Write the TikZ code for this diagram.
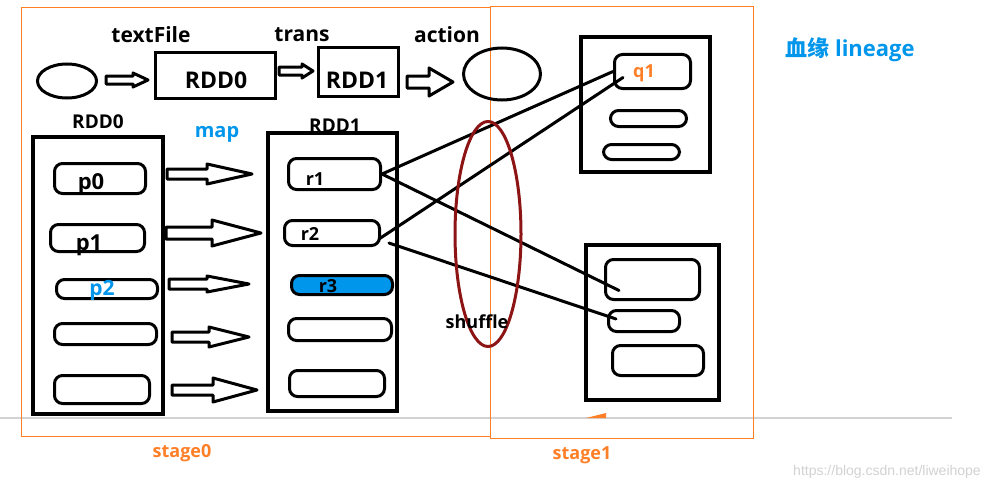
\documentclass[tikz,border=0pt]{standalone}
\usepackage{fontspec}
\setmainfont{Open Sans}
\setsansfont{Liberation Sans}
\newfontfamily\cjk{Noto Sans CJK SC}
\usepackage{tikz}
\usetikzlibrary{shapes.geometric, calc}
\definecolor{stageorange}{RGB}{255,127,39}
\definecolor{mapblue}{RGB}{0,150,235}
\definecolor{shufflered}{RGB}{140,20,20}
\tikzset{x=1pt, y=-1pt,
box/.style={draw, line width=3.5pt, inner sep=0pt},
part/.style={draw, line width=3pt, rounded corners=8pt, inner sep=0pt},
oval/.style={draw, ellipse, line width=3pt, inner sep=0pt},
wire/.style={line width=3pt, line cap=round},
stage/.style={draw=stageorange, line width=1pt},
lbl/.style={font=\bfseries\fontsize{#1}{#1}\selectfont, inner sep=0pt},
lbl/.default=20}
% x1, x2, y, half shaft, half head, head length
\newcommand{\fatarrow}[6]{%
\draw[line width=3pt, fill=white, line join=round]
(#1,#3-#4) -- (#2-#6,#3-#4) -- (#2-#6,#3-#5) -- (#2,#3) -- (#2-#6,#3+#5) -- (#2-#6,#3+#4) -- (#1,#3+#4) -- cycle;}

\begin{document}
\begin{tikzpicture}
\useasboundingbox (0,0) rectangle (1000,495);
\fill[white] (0,0) rectangle (1000,495);
\draw[gray!35, line width=1.5pt] (0,418) -- (952,418);
\fill[stageorange] (586,418) -- (606,413) -- (606,418) -- cycle;

% stages
\draw[stage] (21,8) rectangle (490,436);
\draw[stage] (490,7) rectangle (753,438);
\node[lbl=18, text=stageorange] (st0) at (182,453) {stage0};
\node[lbl=18, text=stageorange] (st1) at (582,455) {stage1};

% top row
\node[oval, minimum width=59, minimum height=34] (src) at (67,81) {};
\node[box, minimum width=120, minimum height=46] (top0) at (215.5,75.5) {};
\node[box, minimum width=80, minimum height=49] (top1) at (358.5,72) {};
\node[oval, minimum width=77, minimum height=52] (res) at (502,74) {};
\node[lbl=23] (top0t) at (216,80) {RDD0};
\node[lbl=23] (top1t) at (357,80) {RDD1};
\node[lbl=21] (tf) at (151,35) {textFile};
\node[lbl=21] (tr) at (302,35) {trans};
\node[lbl=21] (ac) at (447,35) {action};
\fatarrow{106}{148}{80}{4}{7}{15}
\fatarrow{279}{313}{71}{4}{7}{11}
\fatarrow{407}{453}{82}{6}{14}{24}

% RDD0
\node[lbl=19] (rdd0t) at (98,122) {RDD0};
\node[box, minimum width=130, minimum height=277] (rdd0) at (98,275.5) {};
\node[part, minimum width=91, minimum height=30] (p0) at (100,178.5) {};
\node[part, minimum width=94, minimum height=27] (p1) at (97.5,238) {};
\node[part, minimum width=101, minimum height=19] (p2) at (107,289) {};
\node[part, minimum width=102, minimum height=21] (p3) at (105.5,334) {};
\node[part, minimum width=95, minimum height=28] (p4) at (102,389.5) {};
\node[lbl=22] (p0t) at (91,184) {p0};
\node[lbl=22] (p1t) at (89,245) {p1};
\node[lbl=21, text=mapblue] (p2t) at (102,290) {p2};

% map
\node[lbl=20, text=mapblue] (map) at (217,134) {map};
\fatarrow{167}{252}{174}{5}{10}{45}
\fatarrow{166}{261}{233}{6}{13}{49}
\fatarrow{169}{249}{284}{5}{8}{42}
\fatarrow{172}{249}{337}{5}{10}{40}
\fatarrow{172}{257}{390}{5}{12}{44}

% RDD1
\node[lbl=19] (rdd1t) at (335,126) {RDD1};
\node[box, minimum width=129, minimum height=278] (rdd1) at (332.5,272) {};
\node[part, minimum width=92, minimum height=31] (r1) at (334.5,174) {};
\node[part, minimum width=95, minimum height=25] (r2) at (332,233) {};
\node[part, fill=mapblue, minimum width=101, minimum height=19] (r3) at (342,285) {};
\node[part, minimum width=103, minimum height=22] (r4) at (340,329.5) {};
\node[part, minimum width=95, minimum height=26] (r5) at (337,383.5) {};
\node[lbl=18] (r1t) at (315,179) {r1};
\node[lbl=18] (r2t) at (310,234) {r2};
\node[lbl=18] (r3t) at (328,286) {r3};

% stage1 boxes
\node[box, minimum width=129, minimum height=135] (q) at (645.5,104.5) {};
\node[part, minimum width=76, minimum height=34] (q1) at (652.5,71.5) {};
\node[part, minimum width=76, minimum height=16] (q2) at (648.5,118.5) {};
\node[part, minimum width=76, minimum height=15] (q3) at (641.5,152) {};
\node[lbl=18, text=stageorange] (q1t) at (644,73) {q1};
\node[box, minimum width=133, minimum height=155] (s) at (652.5,322.5) {};
\node[part, minimum width=94, minimum height=40] (s0) at (652.5,279.5) {};
\node[part, minimum width=71, minimum height=21] (s1) at (644,321) {};
\node[part, minimum width=91, minimum height=30] (s2) at (658,360.5) {};

% shuffle
\draw[wire]
(r1.east) -- (q1.west)
(r1.east) -- ([xshift=15pt,yshift=-11pt]s0.west)
([xshift=-2pt,yshift=-6pt]r2.east) -- ([xshift=10pt,yshift=-6pt]q1.west)
([xshift=8pt,yshift=-10pt]r2.east) -- ([xshift=9pt,yshift=2pt]s1.west);
\node[draw=shufflered, ellipse, line width=3pt, minimum width=66, minimum height=225] (shuf) at (488,234) {};
\node[lbl=18] (shuft) at (477,322) {shuffle};

\node[lbl=22, text=mapblue] (lin) at (850,50) {{\cjk\bfseries 血缘} lineage};
\node[font=\sffamily\fontsize{14}{14}\selectfont, text=gray!35, inner sep=0pt] (wm) at (887,472) {https://blog.csdn.net/liweihope};
\end{tikzpicture}
\end{document}
